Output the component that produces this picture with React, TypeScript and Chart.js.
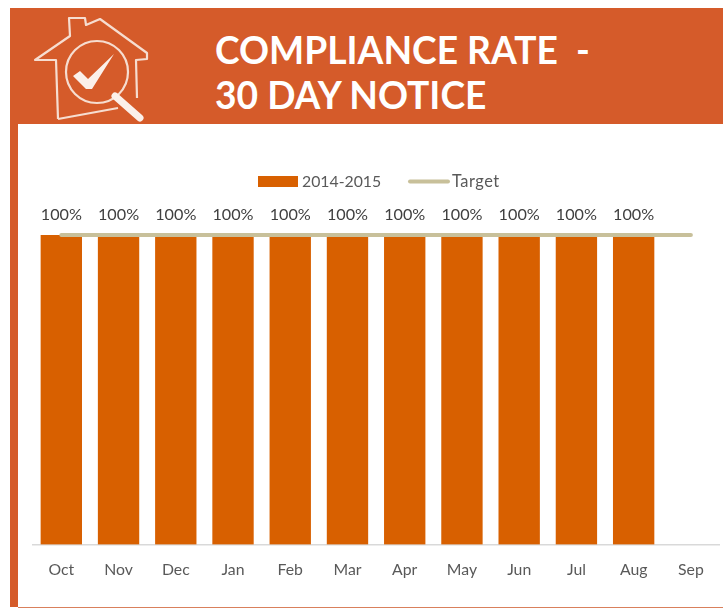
import React, { useEffect, useRef } from "react";
import { Chart, registerables } from "chart.js";

Chart.register(...registerables);

const months = ["Oct", "Nov", "Dec", "Jan", "Feb", "Mar", "Apr", "May", "Jun", "Jul", "Aug", "Sep"];
const complianceValues = [100, 100, 100, 100, 100, 100, 100, 100, 100, 100, 100, null];
const targetValues = [100, 100, 100, 100, 100, 100, 100, 100, 100, 100, 100, 100];
const titleLines = ["COMPLIANCE RATE  -", "30 DAY NOTICE"];

const BAR = "#D86000";
const TARGET = "#C8C09A";
const HEADER = "#D55B2A";
const FONT = "Lato, Carlito, sans-serif";

const barLabels = {
  id: "barLabels",
  afterDatasetsDraw(chart: any) {
    const { ctx } = chart;
    const meta = chart.getDatasetMeta(1);
    ctx.save();
    ctx.font = `16.2px ${FONT}`;
    ctx.fillStyle = "#404040";
    ctx.textAlign = "center";
    ctx.textBaseline = "middle";
    meta.data.forEach((el: any, i: number) => {
      const v = complianceValues[i];
      if (v != null) ctx.fillText(`${v}%`, el.x, 214.5);
    });
    ctx.restore();
  },
};

const topLegend = {
  id: "topLegend",
  afterDraw(chart: any) {
    const { ctx } = chart;
    const y = 181.5;
    ctx.save();
    ctx.textAlign = "left";
    ctx.textBaseline = "middle";
    const bar = chart.data.datasets[1];
    const line = chart.data.datasets[0];
    ctx.fillStyle = bar.backgroundColor;
    ctx.fillRect(258, y - 5.5, 40, 11);
    ctx.fillStyle = "#595959";
    ctx.font = `15.8px ${FONT}`;
    ctx.fillText(bar.label, 302, y);
    ctx.strokeStyle = line.borderColor;
    ctx.lineWidth = line.borderWidth;
    ctx.lineCap = "round";
    ctx.beginPath();
    ctx.moveTo(410, y);
    ctx.lineTo(448, y);
    ctx.stroke();
    ctx.font = `16.4px ${FONT}`;
    ctx.letterSpacing = "0.5px";
    ctx.fillText(line.label, 452, y);
    ctx.restore();
  },
};

function HouseIcon() {
  return (
    <svg
      width={125}
      height={116}
      viewBox="30 12 125 116"
      style={{ position: "absolute", left: 20, top: 4 }}
      fill="none"
      stroke="#F6DDD0"
    >
      <path
        d="M58 119 L56 60 L35 60 L70 36 L69 18 L85 18 L86 25 L100 19 L147 53 L147 59 L136 60 L137 98 M118 108 L58 119"
        strokeWidth={2.2}
        strokeLinejoin="round"
      />
      <circle cx={97} cy={72} r={31} strokeWidth={2.2} />
      <path d="M115 96 L140 118" strokeWidth={7} strokeLinecap="round" stroke="#FBF0EA" />
      <path d="M73 76 L80 71 L88 79 L114 54 L92 89 L86 89 Z" fill="#FBF0EA" stroke="none" />
    </svg>
  );
}

export default function App() {
  const ref = useRef<HTMLCanvasElement>(null);

  useEffect(() => {
    document.body.style.margin = "0";
    document.body.style.overflow = "hidden";
    const chart = new Chart(ref.current!, {
      type: "bar",
      data: {
        labels: months,
        datasets: [
          {
            type: "line",
            label: "Target",
            data: targetValues,
            borderColor: TARGET,
            backgroundColor: TARGET,
            borderWidth: 4,
            borderCapStyle: "round",
            pointRadius: 0,
            clip: false,
            order: 0,
          } as any,
          {
            type: "bar",
            label: "2014-2015",
            data: complianceValues,
            backgroundColor: BAR,
            barThickness: 40.7,
            order: 1,
          } as any,
        ],
      },
      options: {
        responsive: false,
        animation: false,
        layout: { padding: { left: 32.7, right: 3.5, top: 235, bottom: 21.5 } },
        plugins: { legend: { display: false }, tooltip: { enabled: false } },
        scales: {
          y: { display: false, min: 0, max: 100 },
          x: {
            grid: { display: false },
            border: { color: "#D9D9D9", width: 1.5 },
            ticks: {
              color: "#595959",
              padding: 7.5,
              font: { family: FONT, size: 15.8 },
              maxRotation: 0,
              autoSkip: false,
            },
          },
        },
      },
      plugins: [barLabels, topLegend],
    });
    return () => chart.destroy();
  }, []);

  return (
    <div style={{ position: "relative", width: 723, height: 608, overflow: "hidden", background: "#fff" }}>
      <div style={{ position: "absolute", left: 10, top: 120, width: 8, height: 487, background: HEADER }} />
      <div style={{ position: "absolute", left: 18, top: 607, width: 705, height: 1, background: "#D9805C" }} />
      <div style={{ position: "absolute", left: 10, top: 8, width: 713, height: 116, background: HEADER }}>
        <HouseIcon />
        <div
          style={{
            position: "absolute",
            left: 205,
            top: 19,
            color: "#fff",
            fontFamily: FONT,
            fontWeight: 700,
            fontSize: 37.2,
            lineHeight: "45px",
            whiteSpace: "pre",
          }}
        >
          {titleLines.map((t) => (
            <div key={t}>{t}</div>
          ))}
        </div>
      </div>
      <canvas ref={ref} width={723} height={608} style={{ position: "absolute", left: 0, top: 0, display: "block" }} />
    </div>
  );
}
